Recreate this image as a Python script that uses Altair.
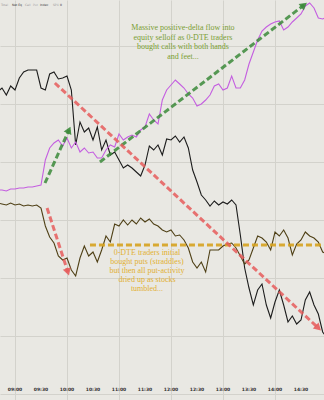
import altair as alt
import pandas as pd

# time in minutes after 09:00, 5-minute samples
minutes = list(range(-20, 361, 5))

spx_level = [308, 312, 305, 314, 310, 322, 328, 330, 330, 330,
             312, 310, 326, 328, 321, 322, 324, 310, 255, 278,
             268, 272, 260, 273, 250, 260, 245, 248, 240, 232,
             235, 232, 228, 224, 235, 254, 250, 255, 245, 261,
             260, 264, 258, 263, 252, 230, 218, 205, 200, 194,
             199, 195, 198, 196, 200, 195, 165, 132, 112, 95,
             110, 116, 95, 82, 98, 110, 95, 78, 84, 76,
             80, 100, 108, 95, 86, 68, 62]

call_delta = [210, 210, 209, 211, 211, 212, 212, 213, 213, 214,
              215, 240, 252, 257, 260, 254, 262, 252, 258, 248,
              252, 247, 248, 242, 242, 250, 255, 253, 266, 260,
              263, 265, 263, 270, 273, 286, 280, 276, 300, 310,
              315, 320, 316, 312, 306, 302, 294, 296, 300, 305,
              314, 316, 310, 312, 324, 312, 312, 320, 336, 348,
              360, 369, 373, 376, 378, 379, 370, 373, 378, 382,
              386, 394, 397, 392, 382, 381, 383]

put_delta = [197, 196, 195, 197, 195, 196, 194, 195, 194, 195,
             192, 174, 163, 157, 144, 140, 142, 130, 124, 142,
             154, 144, 148, 138, 150, 164, 158, 176, 174, 180,
             175, 180, 176, 182, 178, 181, 176, 174, 170, 168,
             170, 164, 165, 160, 152, 138, 132, 138, 128, 150,
             150, 150, 154, 156, 157, 152, 144, 136, 140, 152,
             164, 162, 158, 150, 168, 164, 170, 162, 145, 156,
             160, 168, 164, 162, 158, 148, 146]

series_names = ["spx", "calls", "puts"]
series_colors = ["#1c1c1c", "#c45ee0", "#4f4016"]

tick_minutes = [0, 30, 60, 90, 120, 150, 180, 210, 240, 270, 300, 330]
tick_labels = ["09:00", "09:30", "10:00", "10:30", "11:00", "11:30",
               "12:00", "12:30", "13:00", "13:30", "14:00", "14:30"]
h_grid = [6.5 + 14.5 * j for j in range(28)]

# annotation arrows (start -> end)
arrow_x1 = [34.6, 98.0, 46.0, 37.0]
arrow_y1 = [217, 238, 317, 192]
arrow_x2 = [62.3, 333.5, 350.0, 61.0]
arrow_y2 = [270, 395, 72, 128]
arrow_angle = [24, 52, 133, 162]
arrow_color = ["#3b8a3a", "#3b8a3a", "#e65c5c", "#e65c5c"]

green_lines = ["Massive positive-delta flow into", "equity selloff as 0-DTE traders",
               "bought calls with both hands", "and feet..."]
green_y = [372, 362.5, 353, 343.5]
gold_lines = ["0-DTE traders initial", "bought puts (straddles)",
              "but then all put-activity", "dried up as stocks", "tumbled..."]
gold_y = [147, 138, 129, 120, 111]

legend_texts = ["Total", "Net Eq", "Call", "Put", "Index", "SPX", "0"]
legend_x = [-16.2, -3.5, 11.5, 20.8, 28.8, 43.8, 51.9]
legend_col = ["#999999", "#333333", "#999999", "#aaaaaa", "#333333", "#999999", "#333333"]

BG = "#e9e8e3"
GRID = "#d3d2cc"

xs = alt.Scale(domain=[-17.31, 356.54], nice=False, zero=False)
ys = alt.Scale(domain=[0, 400], nice=False, zero=False)

df = pd.DataFrame({"t": minutes, "spx": spx_level, "calls": call_delta, "puts": put_delta})
long = df.melt("t", var_name="series", value_name="level")

lines = alt.Chart(long).mark_line(strokeWidth=1.1, clip=True).encode(
    x=alt.X("t:Q", scale=xs,
            axis=alt.Axis(values=tick_minutes, grid=True, gridColor=GRID, labels=False,
                          ticks=False, domain=False, title=None)),
    y=alt.Y("level:Q", scale=ys,
            axis=alt.Axis(values=h_grid, grid=True, gridColor=GRID, labels=False,
                          ticks=False, domain=False, title=None)),
    color=alt.Color("series:N", scale=alt.Scale(domain=series_names, range=series_colors),
                    legend=None),
    detail="series:N",
)

gold_df = pd.DataFrame({"x": [86.5], "x2": [360], "y": [155]})
gold_rule = alt.Chart(gold_df).mark_rule(color="#d6a21e", strokeWidth=3.2, strokeDash=[6, 3],
                                         opacity=0.9, clip=True).encode(
    x=alt.X("x:Q", scale=xs), x2="x2:Q", y=alt.Y("y:Q", scale=ys))

arr = pd.DataFrame({"x": arrow_x1, "y": arrow_y1, "x2": arrow_x2, "y2": arrow_y2,
                    "ang": arrow_angle, "col": arrow_color})
acolor = alt.Color("col:N", scale=None)
arrow_lines = alt.Chart(arr).mark_rule(strokeWidth=3, strokeDash=[6, 3], opacity=0.85).encode(
    x=alt.X("x:Q", scale=xs), y=alt.Y("y:Q", scale=ys), x2="x2:Q", y2="y2:Q", color=acolor)
arrow_heads = alt.Chart(arr).mark_point(shape="triangle-up", filled=True, size=70,
                                        opacity=0.9).encode(
    x=alt.X("x2:Q", scale=xs), y=alt.Y("y2:Q", scale=ys),
    angle=alt.Angle("ang:Q", scale=None), color=acolor)

gtxt = alt.Chart(pd.DataFrame({"x": [193.8] * 4, "y": green_y, "s": green_lines})).mark_text(
    font="Liberation Serif", fontSize=8, color="#7a9e34", align="center", baseline="middle"
).encode(x=alt.X("x:Q", scale=xs), y=alt.Y("y:Q", scale=ys), text="s:N")

otxt = alt.Chart(pd.DataFrame({"x": [152.3] * 5, "y": gold_y, "s": gold_lines})).mark_text(
    font="Liberation Serif", fontSize=8, color="#e2b032", align="center", baseline="middle"
).encode(x=alt.X("x:Q", scale=xs), y=alt.Y("y:Q", scale=ys), text="s:N")

ticks_df = pd.DataFrame({"x": tick_minutes, "y": [10] * 12, "s": tick_labels})
tick_txt = alt.Chart(ticks_df).mark_text(fontSize=4.5, fontWeight="bold", color="#333333",
                                         font="DejaVu Sans").encode(
    x=alt.X("x:Q", scale=xs), y=alt.Y("y:Q", scale=ys), text="s:N")

leg_df = pd.DataFrame({"x": legend_x, "y": [395] * 7, "s": legend_texts, "c": legend_col})
leg_txt = alt.Chart(leg_df).mark_text(fontSize=3, align="left", font="DejaVu Sans").encode(
    x=alt.X("x:Q", scale=xs), y=alt.Y("y:Q", scale=ys), text="s:N",
    color=alt.Color("c:N", scale=None))

chart = alt.layer(lines, gold_rule, arrow_lines, arrow_heads, gtxt, otxt, tick_txt, leg_txt).properties(
    width=324, height=400, padding=0, background=BG,
    autosize=alt.AutoSizeParams(type="none"),
).configure_view(stroke=None, fill=BG)

chart.save("out.html", embed_options={"renderer": "svg", "actions": False})
